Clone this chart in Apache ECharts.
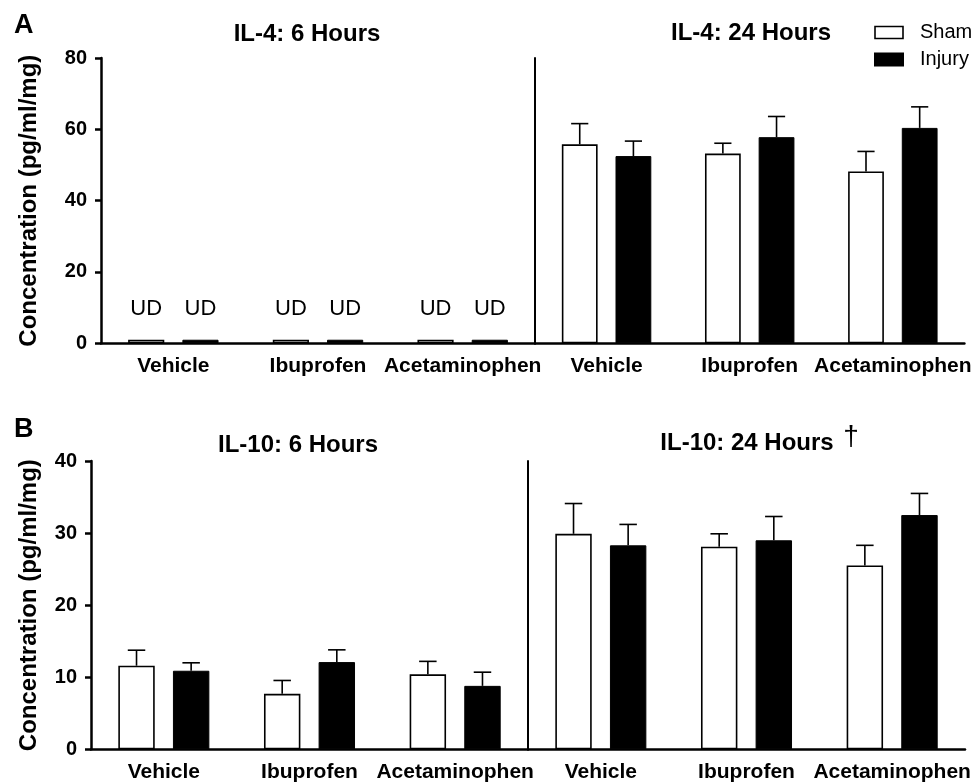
<!DOCTYPE html>
<html>
<head>
<meta charset="utf-8">
<script src="https://cdn.jsdelivr.net/npm/echarts@6/dist/echarts.min.js"></script>
<style>
html,body{margin:0;padding:0;background:#fff;}
#c{width:974px;height:784px;}
</style>
</head>
<body>
<div id="c"></div>
<script>
// ---- data ----
const categories = ['Vehicle', 'Ibuprofen', 'Acetaminophen'];
const seriesNames = ['Sham', 'Injury'];

// IL-4: 6 Hours (undetectable)
const il4_6h_sham = [1, 1, 1];
const il4_6h_injury = [1, 1, 1];
const il4_6h_labels = ['UD', 'UD', 'UD'];

// IL-4: 24 Hours
const il4_24h_sham = [55.8, 53.2, 48.2];
const il4_24h_sham_err = [5.8, 2.9, 5.6];
const il4_24h_injury = [52.5, 57.8, 60.4];
const il4_24h_injury_err = [4.2, 5.8, 5.9];

// IL-10: 6 Hours
const il10_6h_sham = [11.6, 7.7, 10.4];
const il10_6h_sham_err = [2.15, 1.85, 1.8];
const il10_6h_injury = [10.9, 12.1, 8.8];
const il10_6h_injury_err = [1.1, 1.7, 1.9];

// IL-10: 24 Hours
const il10_24h_sham = [29.9, 28.1, 25.5];
const il10_24h_sham_err = [4.2, 1.8, 2.8];
const il10_24h_injury = [28.3, 29.0, 32.5];
const il10_24h_injury_err = [2.9, 3.3, 3.0];

const yTicksTop = [0, 20, 40, 60, 80];
const yTicksBottom = [0, 10, 20, 30, 40];

const panelTitles = ['IL-4: 6 Hours', 'IL-4: 24 Hours', 'IL-10: 6 Hours', 'IL-10: 24 Hours'];
const yTitle = 'Concentration (pg/ml/mg)';

// ---- chart ----
const FONT = '"Liberation Sans", Arial, Helvetica, sans-serif';
const chart = echarts.init(document.getElementById('c'), null, {renderer: 'canvas'});

const grids = [
  {left: 101, top: 58, width: 434, height: 285.3},
  {left: 535, top: 58, width: 433, height: 285.3},
  {left: 91, top: 461, width: 437, height: 288.3},
  {left: 528, top: 461, width: 437, height: 288.3}
];

function xAx(gi) {
  return {
    type: 'category', gridIndex: gi, data: categories,
    axisLine: {show: true, lineStyle: {color: '#000', width: 2.5}},
    axisTick: {show: false},
    axisLabel: {interval: 0, color: '#000', fontFamily: FONT, fontWeight: 'bold', fontSize: 21, margin: 12},
    splitLine: {show: false}
  };
}
function yAxLeft(gi, ticks, gap) {
  return {
    type: 'value', gridIndex: gi, min: ticks[0], max: ticks[ticks.length - 1],
    interval: ticks[1] - ticks[0],
    axisLine: {show: true, lineStyle: {color: '#000', width: 2.5}},
    axisTick: {show: true, length: 6, lineStyle: {color: '#000', width: 2.5}},
    axisLabel: {color: '#000', fontFamily: FONT, fontWeight: 'bold', fontSize: 20, margin: 14},
    splitLine: {show: false},
    name: yTitle, nameLocation: 'middle', nameGap: gap,
    nameTextStyle: {color: '#000', fontFamily: FONT, fontWeight: 'bold', fontSize: 24}
  };
}
function yAxRight(gi, ticks) {
  return {
    type: 'value', gridIndex: gi, min: ticks[0], max: ticks[ticks.length - 1],
    interval: ticks[1] - ticks[0],
    axisLine: {show: true, lineStyle: {color: '#000', width: 2}},
    axisTick: {show: false}, axisLabel: {show: false}, splitLine: {show: false}
  };
}

const shamStyle = {color: '#fff', borderColor: '#000', borderWidth: 1.6};
const injuryStyle = {color: '#000', borderColor: '#000', borderWidth: 1};

function bar(gi, name, data, style, label) {
  const s = {
    type: 'bar', name: name, xAxisIndex: gi, yAxisIndex: gi, data: data,
    barWidth: '25%', barGap: '50%', itemStyle: style, z: 3,
    emphasis: {disabled: true}
  };
  if (label) {
    s.label = {
      show: true, position: 'top', distance: 20,
      formatter: p => label[p.dataIndex],
      color: '#000', fontFamily: FONT, fontSize: 22
    };
  }
  return s;
}

function errBars(gi, means, errs, side) {
  return {
    type: 'custom', xAxisIndex: gi, yAxisIndex: gi, z: 6,
    data: means.map((m, i) => [i, m, errs[i]]),
    renderItem: function (params, api) {
      const band = api.size([1, 0])[0];
      const off = side * band * 0.1875;
      const p0 = api.coord([api.value(0), api.value(1)]);
      const p1 = api.coord([api.value(0), api.value(1) + api.value(2)]);
      const x = p0[0] + off;
      const cap = band * 0.06;
      return {
        type: 'group',
        children: [
          {type: 'line', shape: {x1: x, y1: p0[1], x2: x, y2: p1[1]}, style: {stroke: '#000', lineWidth: 1.6}},
          {type: 'line', shape: {x1: x - cap, y1: p1[1], x2: x + cap, y2: p1[1]}, style: {stroke: '#000', lineWidth: 1.6}}
        ]
      };
    }
  };
}

const titleFont = 'bold 24px ' + FONT;
function txt(text, x, y, font, align) {
  return {
    type: 'text', x: x, y: y, z: 10,
    style: {text: text, font: font, fill: '#000', textAlign: align || 'center', textVerticalAlign: 'middle'}
  };
}

const option = {
  animation: false,
  backgroundColor: '#fff',
  grid: grids,
  xAxis: [xAx(0), xAx(1), xAx(2), xAx(3)],
  yAxis: [yAxLeft(0, yTicksTop, 60), yAxRight(1, yTicksTop), yAxLeft(2, yTicksBottom, 50), yAxRight(3, yTicksBottom)],
  legend: {
    orient: 'vertical', left: 874, top: 22.5, padding: 0, itemGap: 7,
    itemWidth: 28, itemHeight: 12,
    textStyle: {color: '#000', fontFamily: FONT, fontSize: 20, lineHeight: 20, padding: [0, 0, 0, 12]},
    data: [
      {name: seriesNames[0], icon: 'rect', itemStyle: shamStyle},
      {name: seriesNames[1], icon: 'rect', itemStyle: {color: '#000'}}
    ],
    selectedMode: false
  },
  graphic: [
    txt('A', 14, 26, 'bold 27px ' + FONT, 'left'),
    txt('B', 14, 430, 'bold 27px ' + FONT, 'left'),
    txt(panelTitles[0], 307, 34, titleFont),
    txt(panelTitles[1], 751, 33, titleFont),
    txt(panelTitles[2], 298, 445, titleFont),
    txt(panelTitles[3], 747, 443, titleFont),
    txt('\u2020', 851, 437, '28px ' + FONT)
  ],
  series: [
    bar(0, seriesNames[0], il4_6h_sham, shamStyle, il4_6h_labels),
    bar(0, seriesNames[1], il4_6h_injury, injuryStyle, il4_6h_labels),
    bar(1, seriesNames[0], il4_24h_sham, shamStyle),
    bar(1, seriesNames[1], il4_24h_injury, injuryStyle),
    errBars(1, il4_24h_sham, il4_24h_sham_err, -1),
    errBars(1, il4_24h_injury, il4_24h_injury_err, 1),
    bar(2, seriesNames[0], il10_6h_sham, shamStyle),
    bar(2, seriesNames[1], il10_6h_injury, injuryStyle),
    errBars(2, il10_6h_sham, il10_6h_sham_err, -1),
    errBars(2, il10_6h_injury, il10_6h_injury_err, 1),
    bar(3, seriesNames[0], il10_24h_sham, shamStyle),
    bar(3, seriesNames[1], il10_24h_injury, injuryStyle),
    errBars(3, il10_24h_sham, il10_24h_sham_err, -1),
    errBars(3, il10_24h_injury, il10_24h_injury_err, 1)
  ]
};
chart.setOption(option);
</script>
</body>
</html>
